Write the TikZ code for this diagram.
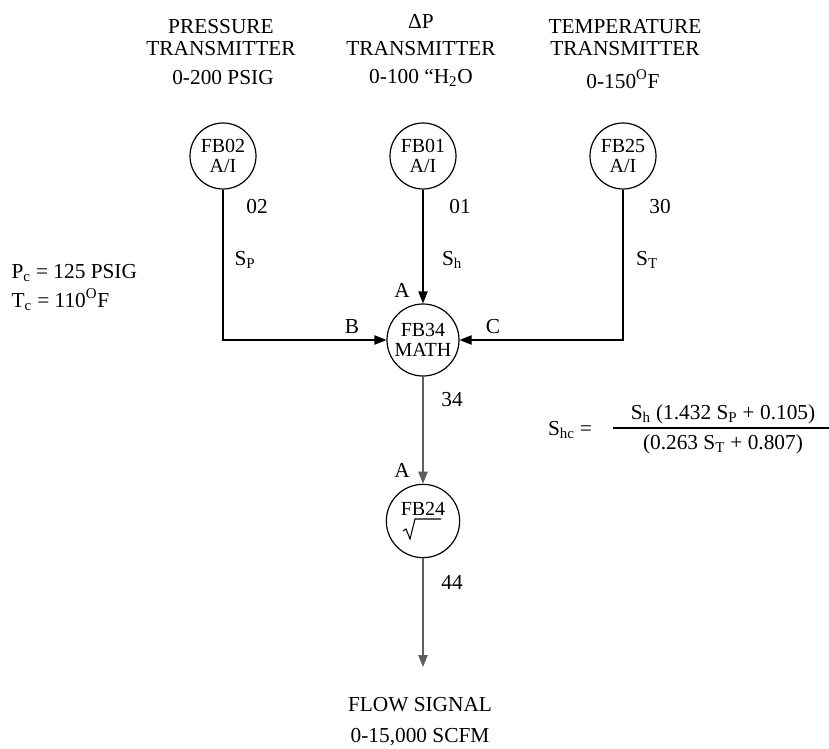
\documentclass[tikz,border=0pt]{standalone}
\usepackage{fontspec}
\setmainfont{Liberation Serif}
\usetikzlibrary{arrows.meta,positioning}
\definecolor{sigGray}{RGB}{95,95,95}
\tikzset{
  fb/.style={circle, draw, line width=0.9pt, minimum size=49.5pt, inner sep=0pt,
    align=center, font=\fontsize{15}{14.5}\selectfont},
  sig/.style={line width=0.9pt, -{Triangle[length=9pt,width=7pt]}},
  lbl/.style={font=\fontsize{16}{18}\selectfont, inner sep=1pt},
  head/.style={font=\fontsize{16}{18}\selectfont, inner sep=1pt},
}
\begin{document}
\begin{tikzpicture}[x=0.75pt,y=-0.75pt]
  \useasboundingbox (0,0) rectangle (829,749);
  % transmitter headings
  \node[head] (ptName) at (221,27) {PRESSURE};
  \node[head] (ptKind) at (221,49) {TRANSMITTER};
  \node[head] (ptRange) at (223,78) {0-200 PSIG};
  \node[head] (dpName) at (421,21) {ΔP};
  \node[head] (dpKind) at (421,49) {TRANSMITTER};
  \node[head] (dpRange) at (421,78) {0-100 ``H\textsubscript{2}O};
  \node[head] (ttName) at (625,27) {TEMPERATURE};
  \node[head] (ttKind) at (625,49) {TRANSMITTER};
  \node[head] (ttRange) at (623,79) {0-150\textsuperscript{O}F};
  % function blocks
  \node[fb] (fb02) at (223,156) {FB02\\A/I};
  \node[fb] (fb01) at (423,156) {FB01\\A/I};
  \node[fb] (fb25) at (623,156) {FB25\\A/I};
  \node[fb, minimum size=54pt] (fb34) at (423,340) {FB34\\MATH};
  \node[fb, minimum size=55pt] (fb24) at (423,521) {FB24\\[4pt]\phantom{A/I}};
  % square root sign
  \draw[line width=0.8pt] ([shift={(-20,10)}]fb24.center) -- ++(3,-2)
    -- ++(4,10) -- ++(5,-20) -- ++(26,0);
  \coordinate (flowEnd) at (423,667);
  % signals
  \draw[sig] (fb02.south) |- (fb34.west);
  \draw[sig] (fb25.south) |- (fb34.east);
  \draw[sig] (fb01) -- (fb34);
  \draw[sig, draw=sigGray] (fb34) -- (fb24);
  \draw[sig, draw=sigGray] (fb24) -- (flowEnd);
  % tags on the lines
  \node[lbl] (tag02) at (257,207) {02};
  \node[lbl] (tag01) at (460,207) {01};
  \node[lbl] (tag30) at (660,207) {30};
  \node[lbl] (sigP) at (245,260) {S\textsubscript{P}};
  \node[lbl] (sigH) at (452,260) {S\textsubscript{h}};
  \node[lbl] (sigT) at (647,260) {S\textsubscript{T}};
  \node[lbl] (inA) at (402,290) {A};
  \node[lbl] (inB) at (352,327) {B};
  \node[lbl] (inC) at (493,327) {C};
  \node[lbl] (tag34) at (452,400) {34};
  \node[lbl] (inA2) at (402,470) {A};
  \node[lbl] (tag44) at (452,582) {44};
  % output
  \node[head] (flowName) at (420,705) {FLOW SIGNAL};
  \node[head] (flowRange) at (420,737) {0-15,000 SCFM};
  % compensation constants
  \node[lbl, anchor=west] (pComp) at (10,273) {P\textsubscript{c} = 125 PSIG};
  \node[lbl, anchor=west] (tComp) at (10,300) {T\textsubscript{c} = 110\textsuperscript{O}F};
  % formula
  \node[lbl] (shc) at (570,430) {S\textsubscript{hc} =};
  \node[lbl] (numer) at (723,414) {S\textsubscript{h} (1.432 S\textsubscript{P} + 0.105)};
  \node[lbl] (denom) at (723,444) {(0.263 S\textsubscript{T} + 0.807)};
  \coordinate (barL) at (613,428);
  \coordinate (barR) at (829,428);
  \draw[line width=0.8pt] (barL) -- (barR);
\end{tikzpicture}
\end{document}
